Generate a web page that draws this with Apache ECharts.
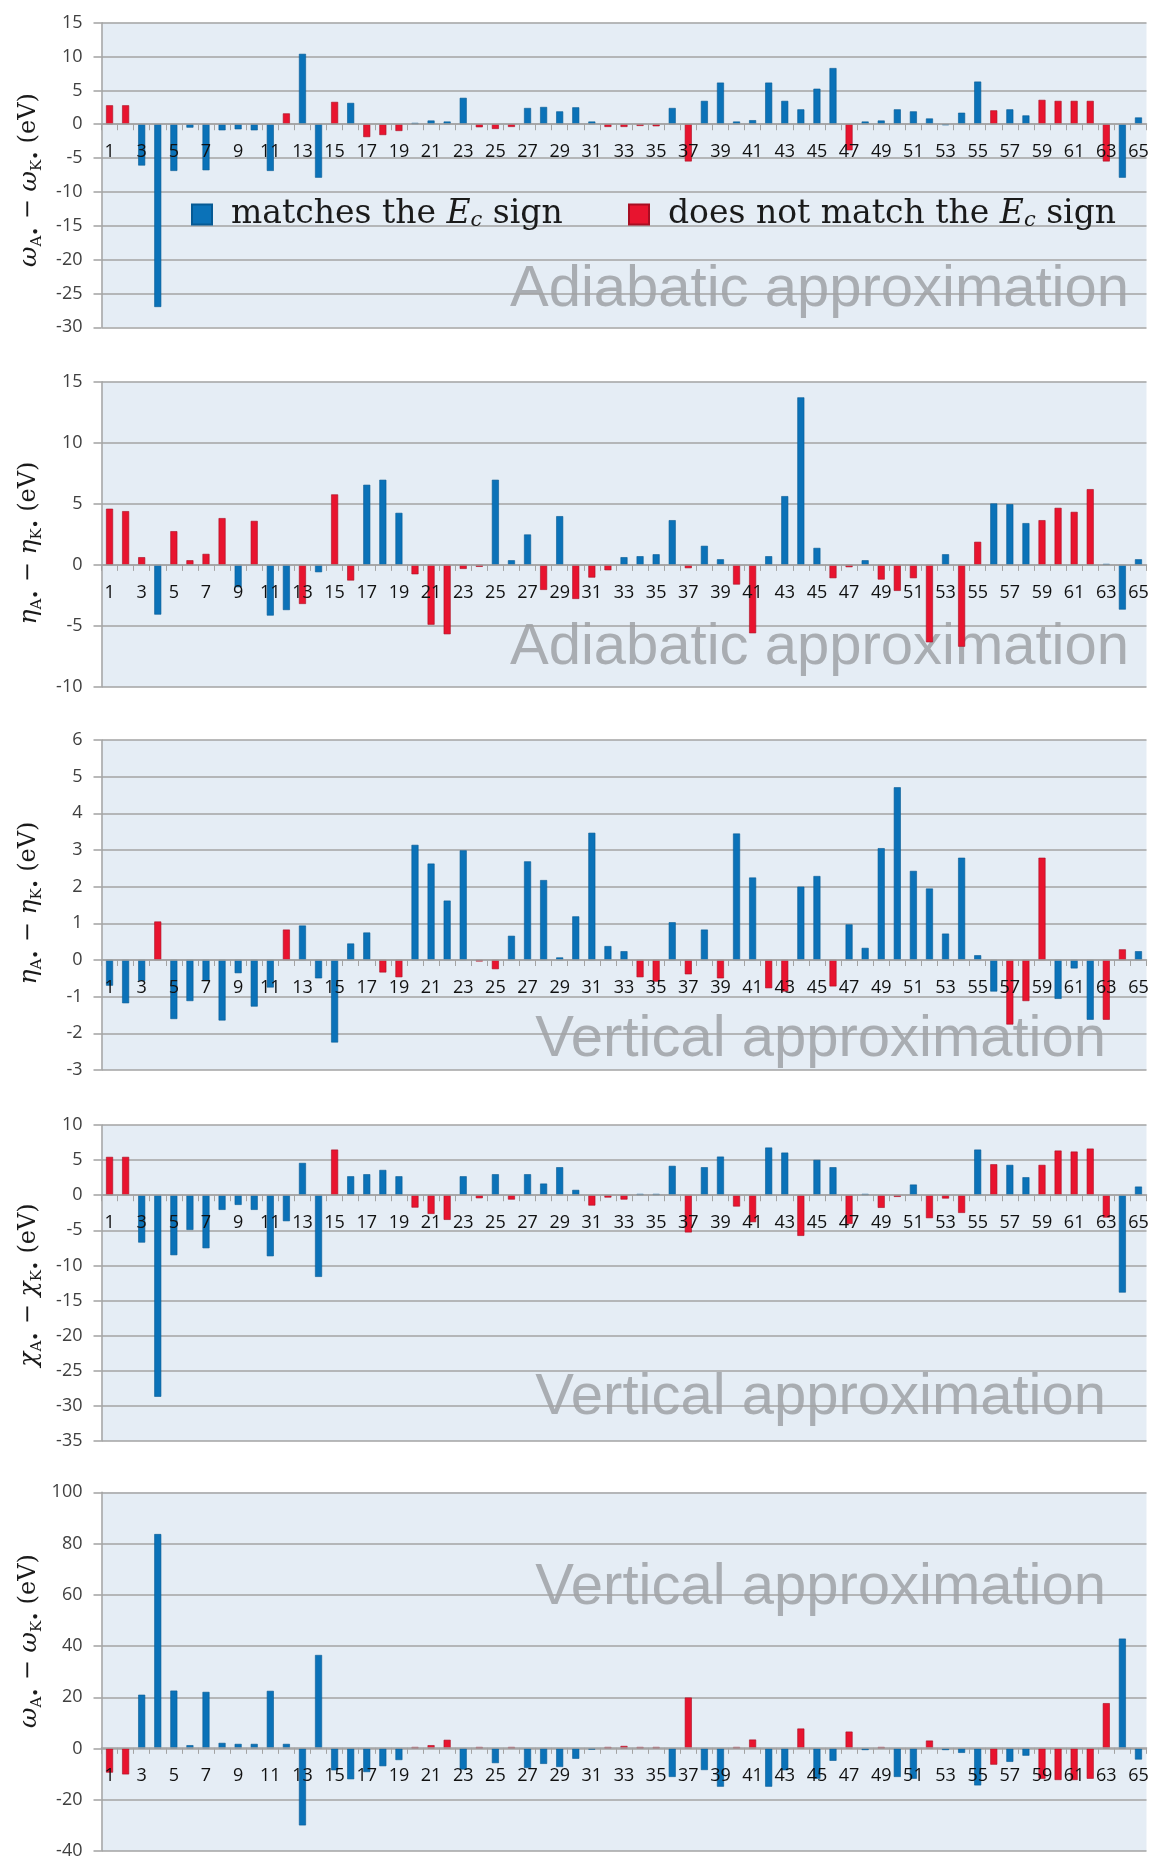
<!DOCTYPE html>
<html><head><meta charset="utf-8">
<script src="https://cdn.jsdelivr.net/npm/echarts@6/dist/echarts.min.js"></script>
<style>html,body{margin:0;padding:0;background:#fff}#c{width:1155px;height:1860px}</style>
</head><body><div id="c"></div>
<script>
const categories = ['1','2','3','4','5','6','7','8','9','10','11','12','13','14','15','16','17','18','19','20','21','22','23','24','25','26','27','28','29','30','31','32','33','34','35','36','37','38','39','40','41','42','43','44','45','46','47','48','49','50','51','52','53','54','55','56','57','58','59','60','61','62','63','64','65'];

// Panel 1: omega, adiabatic
const p1Values = [2.8,2.8,-6.1,-27.0,-6.9,-0.5,-6.8,-0.9,-0.75,-0.9,-6.9,1.6,10.4,-7.9,3.3,3.15,-1.9,-1.6,-1.0,0.2,0.55,0.4,3.9,-0.45,-0.7,-0.4,2.4,2.55,1.9,2.5,0.4,-0.4,-0.4,-0.25,-0.3,2.4,-5.5,3.45,6.15,0.4,0.6,6.15,3.45,2.2,5.25,8.3,-3.85,0.4,0.55,2.2,1.9,0.85,-0.15,1.7,6.3,2.05,2.2,1.3,3.6,3.45,3.45,3.45,-5.5,-7.9,1.0];
const p1Sign = ['r','r','b','b','b','b','b','b','b','b','b','r','b','b','r','b','r','r','r','b','b','b','b','r','r','r','b','b','b','b','b','r','r','r','r','b','r','b','b','b','b','b','b','b','b','b','r','b','b','b','b','b','b','b','b','r','b','b','r','r','r','r','r','b','b'];

// Panel 2: eta, adiabatic
const p2Values = [4.6,4.4,0.63,-4.07,2.76,0.38,0.9,3.83,-1.83,3.6,-4.15,-3.7,-3.2,-0.6,5.77,-1.28,6.56,6.97,4.26,-0.77,-4.9,-5.68,-0.33,-0.16,6.97,0.38,2.49,-2.05,3.99,-2.79,-1.04,-0.44,0.63,0.71,0.87,3.66,-0.27,1.56,0.46,-1.61,-5.6,0.71,5.63,13.72,1.39,-1.09,-0.19,0.38,-1.2,-2.13,-1.09,-6.34,0.87,-6.7,1.89,5.03,4.97,3.42,3.66,4.67,4.34,6.2,0.08,-3.66,0.46];
const p2Sign = ['r','r','r','b','r','r','r','r','b','r','b','b','r','b','r','r','b','b','b','r','r','r','r','r','b','b','b','r','b','r','r','r','b','b','b','b','r','b','b','r','r','b','b','b','b','r','r','b','r','r','r','r','b','r','r','b','b','b','r','r','r','r','b','b','b'];

// Panel 3: eta, vertical
const p3Values = [-0.7,-1.18,-0.57,1.05,-1.61,-1.12,-0.57,-1.65,-0.36,-1.27,-0.75,0.83,0.94,-0.5,-2.25,0.45,0.75,-0.34,-0.47,3.14,2.63,1.62,2.99,-0.04,-0.25,0.66,2.69,2.18,0.07,1.19,3.47,0.38,0.24,-0.47,-0.59,1.03,-0.39,0.83,-0.5,3.45,2.25,-0.77,-0.86,2.0,2.29,-0.72,0.97,0.33,3.05,4.71,2.43,1.95,0.72,2.79,0.13,-0.86,-1.76,-1.12,2.79,-1.06,-0.23,-1.63,-1.63,0.29,0.24];
const p3Sign = ['b','b','b','r','b','b','b','b','b','b','b','r','b','b','b','b','b','r','r','b','b','b','b','r','r','b','b','b','b','b','b','b','b','r','r','b','r','b','r','b','b','r','r','b','b','r','b','b','b','b','b','b','b','b','b','b','r','r','r','b','b','b','r','r','b'];

// Panel 4: chi, vertical
const p4Values = [5.46,5.46,-6.74,-28.7,-8.54,-4.94,-7.55,-2.09,-1.38,-2.09,-8.69,-3.7,4.6,-11.63,6.5,2.7,2.99,3.6,2.7,-1.76,-2.66,-3.51,2.7,-0.43,2.99,-0.62,2.99,1.66,3.99,0.76,-1.47,-0.33,-0.62,0.19,0.19,4.18,-5.3,3.99,5.5,-1.61,-3.84,6.79,6.07,-5.79,5.03,3.99,-4.08,0.19,-1.8,-0.24,1.52,-3.27,-0.47,-2.52,6.5,4.41,4.32,2.56,4.32,6.36,6.22,6.64,-3.18,-13.86,1.23];
const p4Sign = ['r','r','b','b','b','b','b','b','b','b','b','b','b','b','r','b','b','b','b','r','r','r','b','r','b','r','b','b','b','b','r','r','r','b','b','b','r','b','b','r','r','b','b','r','b','b','r','b','r','r','b','r','r','r','b','r','b','b','r','r','r','r','r','b','b'];

// Panel 5: omega, vertical
const p5Values = [-9.4,-10.1,21.0,83.7,22.6,1.3,22.1,2.2,1.8,1.8,22.5,1.8,-30.0,36.5,-8.5,-12.0,-9.2,-6.9,-4.5,0.6,1.3,3.4,-8.2,0.6,-5.7,0.6,-7.6,-6.0,-7.2,-4.0,-0.4,0.6,1.0,0.6,0.6,-11.1,19.9,-8.4,-14.9,0.6,3.5,-14.9,-8.5,7.8,-11.8,-4.8,6.6,-0.6,0.6,-11.1,-11.8,3.1,-0.6,-1.7,-14.4,-6.3,-5.2,-2.8,-11.8,-12.3,-12.3,-11.8,17.7,42.9,-4.3];
const p5Sign = ['r','r','b','b','b','b','b','b','b','b','b','b','b','b','b','b','b','b','b','r','r','r','b','r','b','r','b','b','b','b','b','r','r','r','r','b','r','b','b','r','r','b','b','r','b','b','r','b','r','b','b','r','b','b','b','r','b','b','r','r','r','r','r','b','b'];

// Axis ranges [min, max, interval]
const yRanges = [[-30,15,5],[-10,15,5],[-3,6,1],[-35,10,5],[-40,100,20]];
const yLetters = ['ω','η','η','χ','ω'];
const watermarks = ['Adiabatic approximation','Adiabatic approximation','Vertical approximation','Vertical approximation','Vertical approximation'];
const legendNames = ['matches the Ec sign','does not match the Ec sign'];

const values = [p1Values,p2Values,p3Values,p4Values,p5Values];
const signs = [p1Sign,p2Sign,p3Sign,p4Sign,p5Sign];

// layout
const gridBoxes = [[22.7,304.6],[381.7,305.3],[740,330],[1125,316],[1492.3,361]];
const titleY = [180,543,903,1285,1641];
const wmRight = [1129,1129,1106,1106,1106];
const wmY = [290,648,1040,1398,1588];

const BLUE = '#0b72b8', RED = '#e8142f', GRIDC = '#a3a3a3';
const chart = echarts.init(document.getElementById('c'), null, {renderer:'canvas'});

const grid = [], xAxis = [], yAxis = [], series = [], graphic = [];
for (let p = 0; p < 5; p++) {
  const [mn, mx, iv] = yRanges[p];
  const h = gridBoxes[p][1];
  // place the category axis at value 0 (axis offset from the bottom edge)
  const zeroOffset = -h * (0 - mn) / (mx - mn);
  grid.push({left:101.5, width:1045, top:gridBoxes[p][0], height:h, show:true, backgroundColor:'#e5edf5', borderWidth:0, z:0});
  xAxis.push({type:'category', gridIndex:p, data:categories, z:4, position:'bottom', offset:zeroOffset,
    axisLine:{show:true, onZero:false, lineStyle:{color:GRIDC, width:1.5}},
    axisTick:{show:true, interval:0, length:6, lineStyle:{color:GRIDC, width:1}},
    axisLabel:{interval:1, margin:19, fontFamily:'Open Sans', fontSize:18, color:'#111'},
    splitLine:{show:false}});
  yAxis.push({type:'value', gridIndex:p, min:mn, max:mx, interval:iv, z:2,
    axisLine:{show:true, lineStyle:{color:GRIDC, width:1.5}},
    axisTick:{show:true, length:8, lineStyle:{color:GRIDC, width:1.5}},
    axisLabel:{margin:19, fontFamily:'Open Sans', fontSize:18, color:'#404040'},
    splitLine:{show:true, lineStyle:{color:GRIDC, width:1.5}}});
  const v = values[p], s = signs[p];
  series.push({name:legendNames[0], type:'bar', xAxisIndex:p, yAxisIndex:p, barWidth:7, barGap:'-100%', z:3,
    itemStyle:{color:BLUE, borderColor:'#065a94', borderWidth:0.6},
    data: v.map((x,i)=> s[i]==='b' ? x : null)});
  series.push({name:legendNames[1], type:'bar', xAxisIndex:p, yAxisIndex:p, barWidth:7, barGap:'-100%', z:3,
    itemStyle:{color:RED, borderColor:'#a80d22', borderWidth:0.6},
    data: v.map((x,i)=> s[i]==='r' ? x : null)});
  const L = yLetters[p];
  graphic.push({type:'text', x:29, y:titleY[p], rotation:Math.PI/2, z:5,
    style:{text:'{g|'+L+'}{s|A•}{t| − }{g|'+L+'}{s|K•}{t| (eV)}', align:'center', verticalAlign:'middle',
      fontFamily:'DejaVu Serif', fontSize:24, fill:'#1a1a1a',
      rich:{g:{fontFamily:'DejaVu Serif', fontStyle:'italic', fontSize:25, lineHeight:31, fill:'#1a1a1a'},
            t:{fontFamily:'DejaVu Serif', fontSize:24, lineHeight:31, fill:'#1a1a1a'},
            s:{fontFamily:'DejaVu Serif', fontSize:15, lineHeight:15, verticalAlign:'bottom', fill:'#1a1a1a'}}}});
  graphic.push({type:'text', x:wmRight[p], y:wmY[p], z:1, silent:true,
    style:{text:watermarks[p], align:'right', verticalAlign:'middle', fontFamily:'Liberation Sans', fontSize:58, fill:'#a9adb2'}});
}

const legendRich = {
  a:{fontFamily:'DejaVu Serif', fontSize:33, color:'#1a1a1a', padding:[0,0,0,14]},
  t:{fontFamily:'DejaVu Serif', fontSize:33, color:'#1a1a1a'},
  e:{fontFamily:'DejaVu Serif', fontStyle:'italic', fontSize:33, color:'#1a1a1a'},
  c:{fontFamily:'DejaVu Serif', fontStyle:'italic', fontSize:21, color:'#1a1a1a', verticalAlign:'bottom', lineHeight:20}
};
function legendFmt(name){
  if (name === legendNames[0]) return '{a|matches the }{e|E}{c|c}{t| sign}';
  return '{a|does not match the }{e|E}{c|c}{t| sign}';
}

chart.setOption({
  animation:false,
  grid, xAxis, yAxis, series, graphic,
  legend:[
    {data:[legendNames[0]], left:191, top:198, padding:0, itemWidth:20, itemHeight:20, icon:'rect', selectedMode:false,
     formatter:legendFmt, textStyle:{rich:legendRich}, z:6},
    {data:[legendNames[1]], left:628, top:198, padding:0, itemWidth:20, itemHeight:20, icon:'rect', selectedMode:false,
     formatter:legendFmt, textStyle:{rich:legendRich}, z:6}
  ]
});
</script></body></html>
